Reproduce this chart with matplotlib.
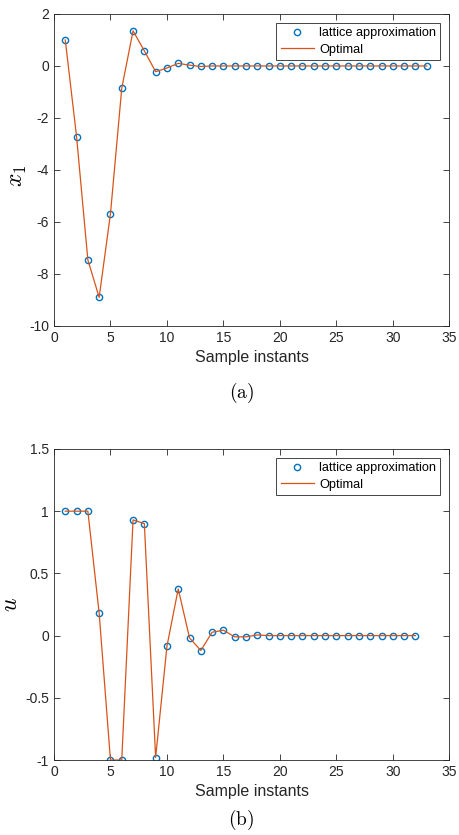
import numpy as np
import matplotlib.pyplot as plt

# data
k1 = np.arange(1, 34)
x1 = [1.0, -2.72, -7.46, -8.90, -5.69, -0.86, 1.35, 0.58, -0.22, -0.08,
      0.10, 0.03, -0.02] + [0.0] * 20

k2 = np.arange(1, 33)
u = [1.0, 1.0, 1.0, 0.18, -1.0, -1.0, 0.93, 0.90, -0.98, -0.086,
     0.375, -0.018, -0.12, 0.027, 0.043, -0.01, -0.01, 0.005] + [0.0] * 14

blue = '#0072BD'
orange = '#D95319'
plt.rcParams['font.family'] = ['Liberation Sans', 'DejaVu Sans']
plt.rcParams['mathtext.fontset'] = 'cm'

fig = plt.figure(figsize=(4.59, 8.35), dpi=100)
ax1 = fig.add_axes([0.1176, 0.6096, 0.8613, 0.3737])
ax2 = fig.add_axes([0.1176, 0.0898, 0.8613, 0.3725])


def style(ax):
    ax.set_xlim(0, 35)
    ax.set_xticks(range(0, 36, 5))
    ax.set_xticklabels([str(v) for v in range(0, 36, 5)])
    ax.tick_params(direction='in', top=True, right=True, labelsize=10,
                   colors='#262626', length=4, width=0.6)
    for s in ax.spines.values():
        s.set_color('#262626')
        s.set_linewidth(0.6)
    ax.set_xlabel('Sample instants', fontsize=11.5, color='#262626', labelpad=4)
    leg = ax.legend(loc='upper right', fontsize=9.2, frameon=True, fancybox=False,
                    framealpha=1, edgecolor='#262626', borderpad=0.35,
                    handlelength=2.6, handletextpad=0.4, borderaxespad=0.7,
                    labelspacing=0.35)
    leg.get_frame().set_linewidth(0.6)


ax1.plot(k1, x1, 'o', mfc='none', mec=blue, ms=4.5, mew=1.0, label='lattice approximation')
ax1.plot(k1, x1, '-', color=orange, lw=0.9, label='Optimal')
ax1.set_ylim(-10, 2)
ax1.set_yticks(range(-10, 3, 2))
ax1.set_yticklabels([str(v) for v in range(-10, 3, 2)])
ax1.set_ylabel('$x_1$', fontsize=17)
ax1.yaxis.set_label_coords(-0.063, 0.48)
style(ax1)
fig.text(0.5257, 0.530, r'$\mathrm{(a)}$', ha='center', va='center', fontsize=14)

ax2.plot(k2, u, 'o', mfc='none', mec=blue, ms=4.5, mew=1.0, label='lattice approximation')
ax2.plot(k2, u, '-', color=orange, lw=0.9, label='Optimal')
ax2.set_ylim(-1, 1.5)
ax2.set_yticks([-1, -0.5, 0, 0.5, 1, 1.5])
ax2.set_yticklabels(['-1', '-0.5', '0', '0.5', '1', '1.5'])
ax2.set_ylabel('$u$', fontsize=17)
ax2.yaxis.set_label_coords(-0.08, 0.5)
style(ax2)
fig.text(0.5257, 0.018, r'$\mathrm{(b)}$', ha='center', va='center', fontsize=14)

fig.savefig('out.png', dpi=100)
